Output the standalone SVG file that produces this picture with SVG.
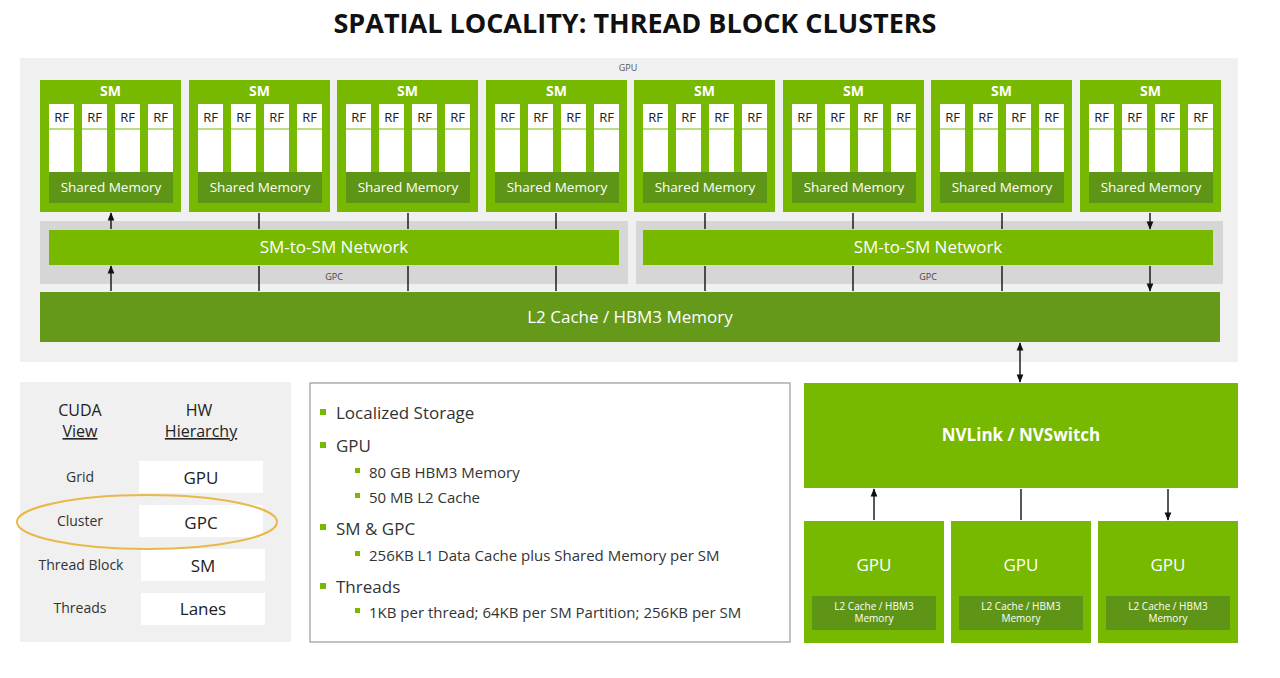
<svg xmlns="http://www.w3.org/2000/svg" width="1280" height="678" viewBox="0 0 1280 678">
<style>
text{font-family:"Open Sans","Liberation Sans",sans-serif}
.sm{fill:#76b900}.dk{fill:#5f9516}.w{fill:#fff}
.wt{fill:#fff;font-weight:bold;text-anchor:middle}
.rf{font-size:13px;text-anchor:middle;fill:#222}
.sh{font-size:13.5px;fill:#fff;text-anchor:middle}
.ar{stroke:#111;stroke-width:1.4;marker-start:url(#a);marker-end:url(#a)}
.lt{font-size:14px;fill:#333;text-anchor:middle}
.bl{font-size:17px;fill:#333}
.sq{fill:#76b900}
</style>
<defs>
<marker id="a" viewBox="0 0 10 10" refX="9" refY="5" markerWidth="6" markerHeight="6" orient="auto-start-reverse"><path d="M0,1L10,5L0,9z" fill="#111"/></marker>
<g id="smb">
<rect class="sm" x="0" y="0" width="141" height="132"/>
<text class="wt" x="70.5" y="16" font-size="14">SM</text>
<rect class="w" x="9" y="24" width="25" height="68"/><rect class="w" x="42" y="24" width="25" height="68"/><rect class="w" x="75" y="24" width="25" height="68"/><rect class="w" x="108" y="24" width="25" height="68"/>
<path d="M9,49h25M42,49h25M75,49h25M108,49h25" stroke="#76b900" stroke-width="1"/>
<text class="rf" x="21.5" y="42">RF</text><text class="rf" x="54.5" y="42">RF</text><text class="rf" x="87.5" y="42">RF</text><text class="rf" x="120.5" y="42">RF</text>
<rect class="dk" x="9" y="92" width="124" height="31"/>
<text class="sh" x="71" y="112">Shared Memory</text>
</g>
<g id="gpu">
<rect class="sm" x="0" y="0" width="140" height="122"/>
<text class="wt" x="70" y="50" font-size="17" font-weight="normal" style="font-weight:normal">GPU</text>
<rect class="dk" x="8" y="75" width="124" height="34"/>
<text x="70" y="89" font-size="10" fill="#fff" text-anchor="middle">L2 Cache / HBM3</text>
<text x="70" y="101" font-size="10" fill="#fff" text-anchor="middle">Memory</text>
</g>
</defs>
<rect width="1280" height="678" fill="#fff"/>
<text x="635" y="33" font-size="27" font-weight="bold" text-anchor="middle" fill="#111">SPATIAL LOCALITY: THREAD BLOCK CLUSTERS</text>
<g id="gpu-bg"><rect x="20" y="58" width="1218" height="304" fill="#f0f0f0"/><text x="628" y="71" font-size="9" fill="#555" text-anchor="middle">GPU</text></g>
<g id="gpc1"><rect x="40" y="221" width="588" height="63" fill="#d6d6d6"/><rect class="sm" x="49" y="230" width="570" height="35"/><text x="334" y="253" font-size="17" fill="#fff" text-anchor="middle">SM-to-SM Network</text><text x="334" y="280" font-size="9" fill="#444" text-anchor="middle">GPC</text></g>
<g id="gpc2"><rect x="636" y="221" width="587" height="63" fill="#d6d6d6"/><rect class="sm" x="643" y="230" width="570" height="35"/><text x="928" y="253" font-size="17" fill="#fff" text-anchor="middle">SM-to-SM Network</text><text x="928" y="280" font-size="9" fill="#444" text-anchor="middle">GPC</text></g>
<g id="sms">
<use href="#smb" x="40" y="80"/><use href="#smb" x="189" y="80"/><use href="#smb" x="337" y="80"/><use href="#smb" x="486" y="80"/>
<use href="#smb" x="634" y="80"/><use href="#smb" x="783" y="80"/><use href="#smb" x="931" y="80"/><use href="#smb" x="1080" y="80"/>
</g>
<g id="l2"><rect x="40" y="292" width="1180" height="50" fill="#64991a"/><text x="630" y="323" font-size="17" fill="#fff" text-anchor="middle">L2 Cache / HBM3 Memory</text></g>
<g id="nvlink"><rect class="sm" x="804" y="383" width="434" height="105"/><text class="wt" x="1021" y="441" font-size="17">NVLink / NVSwitch</text></g>
<g id="gpus"><use href="#gpu" x="804" y="521"/><use href="#gpu" x="951" y="521"/><use href="#gpu" x="1098" y="521"/></g>
<g id="connectors">
<path class="ar" d="M111,213V229M259,213V229M408,213V229M556,213V229M705,213V229M853,213V229M1002,213V229M1150,213V229"/>
<path class="ar" d="M111,266V291M259,266V291M408,266V291M556,266V291M705,266V291M853,266V291M1002,266V291M1150,266V291"/>
<path class="ar" d="M1020,343V382"/>
<path class="ar" d="M874,489V520M1021,489V520M1168,489V520"/>
</g>
<g id="table">
<rect x="20" y="382" width="271" height="260" fill="#f0f0f0"/>
<text x="80" y="416" font-size="16" fill="#222" text-anchor="middle">CUDA</text>
<text x="80" y="437" font-size="16" fill="#222" text-anchor="middle" text-decoration="underline">View</text>
<text x="199" y="416" font-size="16" fill="#222" text-anchor="middle">HW</text>
<text x="201" y="437" font-size="16" fill="#222" text-anchor="middle" text-decoration="underline">Hierarchy</text>
<rect class="w" x="139" y="461" width="124" height="32"/><rect class="w" x="139" y="505" width="124" height="32"/><rect class="w" x="141" y="549" width="124" height="32"/><rect class="w" x="141" y="593" width="124" height="32"/>
<text class="lt" x="80" y="482">Grid</text><text class="lt" x="80" y="526">Cluster</text><text class="lt" x="81" y="570">Thread Block</text><text class="lt" x="80" y="613">Threads</text>
<text x="201" y="484" font-size="17" fill="#222" text-anchor="middle">GPU</text>
<text x="201" y="529" font-size="17" fill="#222" text-anchor="middle">GPC</text>
<text x="203" y="572" font-size="17" fill="#222" text-anchor="middle">SM</text>
<text x="203" y="615" font-size="17" fill="#222" text-anchor="middle">Lanes</text>
<ellipse cx="147" cy="522" rx="130" ry="27" fill="none" stroke="#e8b84a" stroke-width="2"/>
</g>
<g id="specs">
<rect x="310" y="383" width="480" height="259" fill="#fff" stroke="#999" stroke-width="1.2"/>
<rect class="sq" x="320" y="409" width="6" height="6"/><text class="bl" x="336" y="419">Localized Storage</text>
<rect class="sq" x="320" y="442" width="6" height="6"/><text class="bl" x="336" y="452">GPU</text>
<rect class="sq" x="355" y="468" width="5" height="5"/><text x="369" y="478" font-size="15" fill="#333">80 GB HBM3 Memory</text>
<rect class="sq" x="355" y="493" width="5" height="5"/><text x="369" y="503" font-size="15" fill="#333">50 MB L2 Cache</text>
<rect class="sq" x="320" y="524" width="6" height="6"/><text class="bl" x="336" y="535">SM &amp; GPC</text>
<rect class="sq" x="355" y="551" width="5" height="5"/><text x="369" y="561" font-size="15" fill="#333">256KB L1 Data Cache plus Shared Memory per SM</text>
<rect class="sq" x="320" y="583" width="6" height="6"/><text class="bl" x="336" y="593">Threads</text>
<rect class="sq" x="355" y="608" width="5" height="5"/><text x="369" y="618" font-size="15" fill="#333">1KB per thread; 64KB per SM Partition; 256KB per SM</text>
</g>
</svg>
